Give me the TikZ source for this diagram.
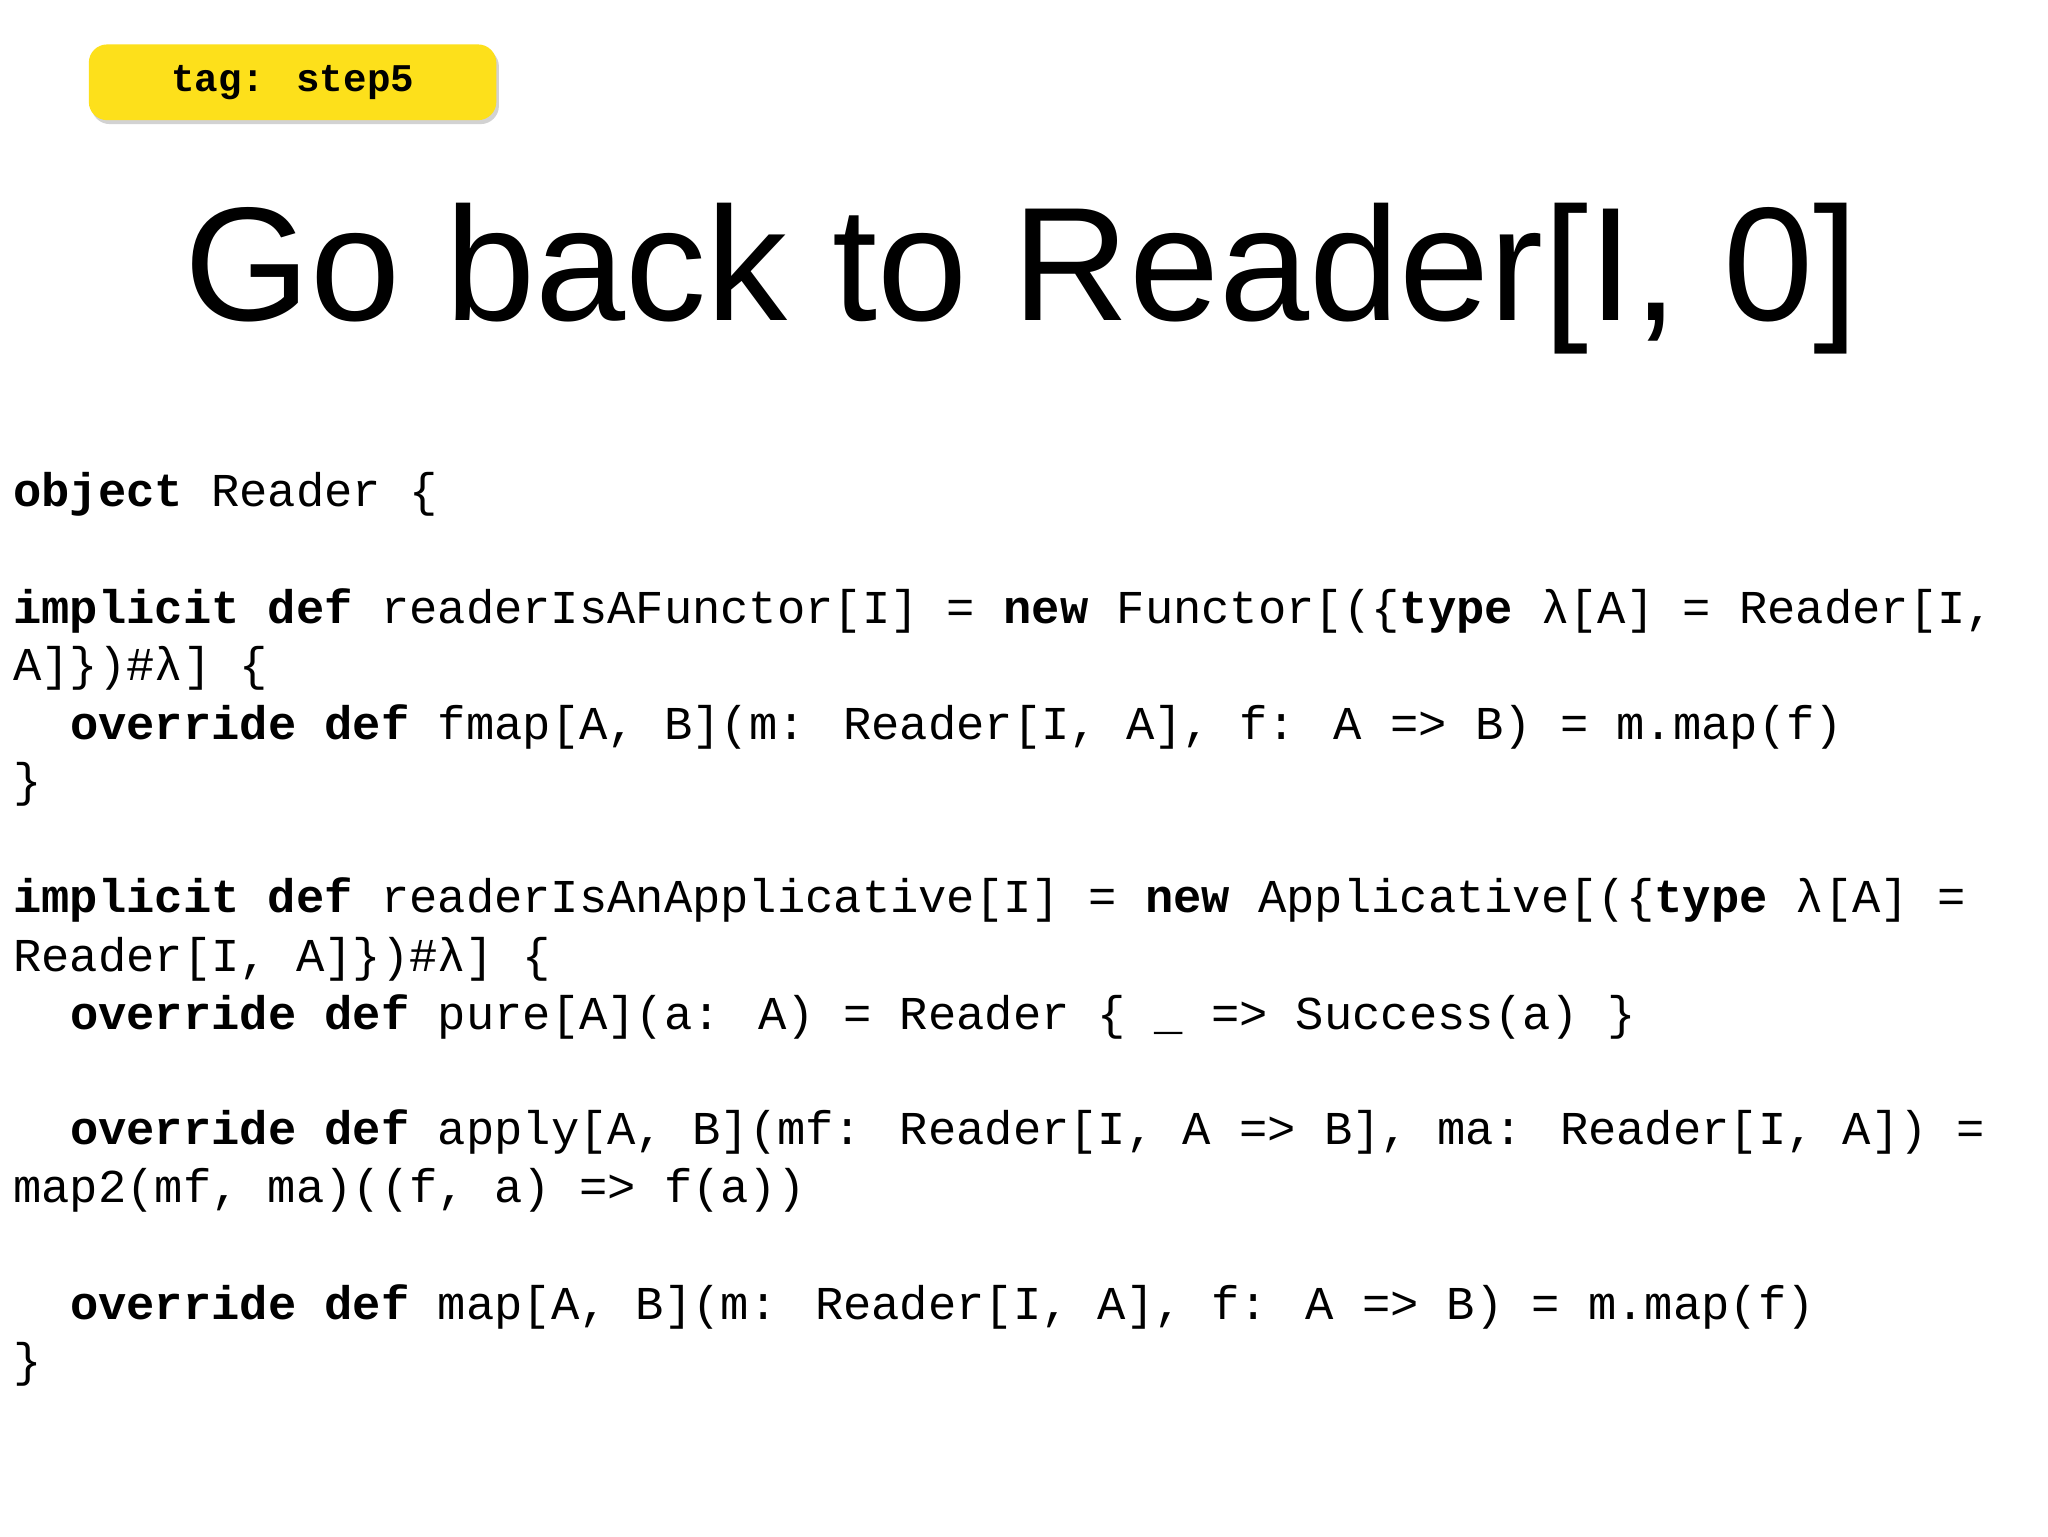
\documentclass[tikz,border=0pt]{standalone}
\usepackage{fontspec}
\setmainfont{Liberation Sans}
\newfontfamily\codef{Liberation Mono}
\usetikzlibrary{shadows}
\begin{document}
\begin{tikzpicture}[x=1pt,y=-1pt,
  codeline/.style={anchor=base west,inner sep=0pt,font=\codef\fontsize{36.1}{40}\selectfont}]
\useasboundingbox (0,0) rectangle (1568,1176);
\fill[white] (0,0) rectangle (1568,1176);
\node[fill=yellow!80!orange!90!white, rounded corners=14pt, minimum width=312pt, minimum height=58pt,
  drop shadow={shadow xshift=2pt,shadow yshift=-3pt,opacity=0.35}, font=\codef\bfseries\fontsize{30}{32}\selectfont]
  (tag) at (224,63) {tag: step5};
\node[anchor=base, inner sep=0pt, font=\fontsize{124}{130}\selectfont] (title) at (782,245) {Go back to Reader[I, 0]};
\def\cx{10}\def\ix{53.4}
\node[codeline] (l1) at (\cx,388) {\textbf{object} Reader \{};
\node[codeline] (l3) at (\cx,477) {\textbf{implicit def} readerIsAFunctor[I] = \textbf{new} Functor[(\{\textbf{type} λ[A] = Reader[I,};
\node[codeline] (l4) at (\cx,521) {A]\})\#λ] \{};
\node[codeline] (l5) at (\ix,566) {\textbf{override def} fmap[A, B](m: Reader[I, A], f: A => B) = m.map(f)};
\node[codeline] (l6) at (\cx,610) {\}};
\node[codeline] (l8) at (\cx,699) {\textbf{implicit def} readerIsAnApplicative[I] = \textbf{new} Applicative[(\{\textbf{type} λ[A] =};
\node[codeline] (l9) at (\cx,744) {Reader[I, A]\})\#λ] \{};
\node[codeline] (l10) at (\ix,788) {\textbf{override def} pure[A](a: A) = Reader \{ \_ => Success(a) \}};
\node[codeline] (l12) at (\ix,876) {\textbf{override def} apply[A, B](mf: Reader[I, A => B], ma: Reader[I, A]) =};
\node[codeline] (l13) at (\cx,921) {map2(mf, ma)((f, a) => f(a))};
\node[codeline] (l15) at (\ix,1010) {\textbf{override def} map[A, B](m: Reader[I, A], f: A => B) = m.map(f)};
\node[codeline] (l16) at (\cx,1054) {\}};
\end{tikzpicture}
\end{document}
